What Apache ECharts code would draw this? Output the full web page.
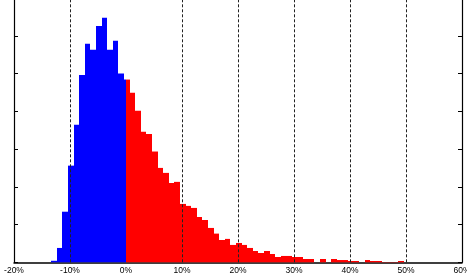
<!DOCTYPE html>
<html>
<head>
<meta charset="utf-8">
<script src="https://cdn.jsdelivr.net/npm/echarts@6/dist/echarts.min.js"></script>
<style>
html,body{margin:0;padding:0;background:#fff;}
#chart{width:467px;height:278px;}
</style>
</head>
<body>
<div id="chart"></div>
<script>
// Histogram bin edges (percent return) and counts
const blueEdges = [-13.36, -12.36, -11.36, -10.36, -9.36, -8.36, -7.36, -6.36, -5.36, -4.36, -3.36, -2.36, -1.36, -0.36, 0];
const blueCounts = [2, 19, 67, 128, 182, 248, 289.5, 281.5, 313, 324, 281.5, 293.5, 250, 242];

const redEdges = [0, 0.64, 1.64, 2.64, 3.64, 4.64, 5.64, 6.64, 7.64, 8.64, 9.64, 10.64, 11.64, 12.64, 13.64, 14.64,
  15.64, 16.64, 17.64, 18.64, 19.64, 20.64, 21.64, 22.64, 23.64, 24.64, 25.64, 26.64, 27.64, 28.64, 29.64,
  30.64, 31.64, 32.64, 33.64, 34.64, 35.64, 36.64, 37.64, 38.64, 39.64, 40.64, 41.64, 42.64, 43.64, 44.64,
  45.64, 46.64, 47.64, 48.64, 49.64];
const redCounts = [242, 224.5, 200.6, 172.8, 170, 146.7, 125, 118.4, 105, 106.5, 77.3, 74.7, 72, 60, 56, 45.5,
  38, 29.5, 31, 23, 25.6, 23, 19, 15, 12.3, 15, 11, 7, 8.4, 8.4, 7, 7, 4.4, 4.4, 0, 4.4, 0, 4.4, 3, 3,
  1.7, 1.7, 0, 3, 1.7, 1.7, 0.4, 0.4, 0.4, 1.7];

const xTicks = [-20, -10, 0, 10, 20, 30, 40, 50, 60];
const gridLines = [-10, 10, 20, 30, 40, 50];

const blueData = blueCounts.map((c, i) => [blueEdges[i], blueEdges[i + 1], c]);
const redData = redCounts.map((c, i) => [redEdges[i], redEdges[i + 1], c]);

function makeRender(color) {
  return function (params, api) {
    const p0 = api.coord([api.value(0), api.value(2)]);
    const p1 = api.coord([api.value(1), 0]);
    const x0 = Math.round(p0[0]), x1 = Math.round(p1[0]);
    return {
      type: 'rect',
      shape: { x: x0, y: p0[1], width: x1 - x0, height: p1[1] - p0[1] },
      style: { fill: color }
    };
  };
}

const chart = echarts.init(document.getElementById('chart'), null, { renderer: 'canvas' });
const axisText = { color: '#000', fontFamily: 'Liberation Sans, Arial, sans-serif', fontSize: 8.5 };
const yAxisBase = {
  type: 'value', min: 0, max: 350, interval: 50,
  axisLine: { show: true, onZero: false, lineStyle: { color: '#000', width: 1.2 } },
  axisTick: { show: true, inside: true, length: 4, lineStyle: { color: '#000' } },
  axisLabel: { show: false },
  splitLine: { show: false }
};
chart.setOption({
  animation: false,
  backgroundColor: '#fff',
  grid: { left: 14, right: 5, top: -2, bottom: 15.7, containLabel: false, outerBoundsMode: 'none' },
  xAxis: {
    type: 'value', min: -20, max: 60, interval: 10,
    axisLine: { show: true, onZero: false, lineStyle: { color: '#000', width: 1.5 } },
    axisTick: { show: false },
    splitLine: { show: false },
    axisLabel: Object.assign({ formatter: '{value}%', margin: 4, showMinLabel: true, showMaxLabel: true, hideOverlap: false }, axisText)
  },
  yAxis: [
    Object.assign({ position: 'left' }, yAxisBase),
    Object.assign({ position: 'right' }, yAxisBase)
  ],
  series: [
    {
      type: 'line', data: [], z: 1, silent: true,
      markLine: {
        silent: true, symbol: ['none', 'none'], animation: false,
        label: { show: false },
        lineStyle: { color: '#222', type: [3, 2], width: 1 },
        data: gridLines.map(v => ({ xAxis: v }))
      }
    },
    { type: 'custom', name: 'neg', data: blueData, renderItem: makeRender('#0000ff'), z: 3, encode: { x: [0, 1], y: 2 } },
    { type: 'custom', name: 'pos', data: redData, renderItem: makeRender('#ff0000'), z: 3, encode: { x: [0, 1], y: 2 } }
  ]
});
</script>
</body>
</html>
